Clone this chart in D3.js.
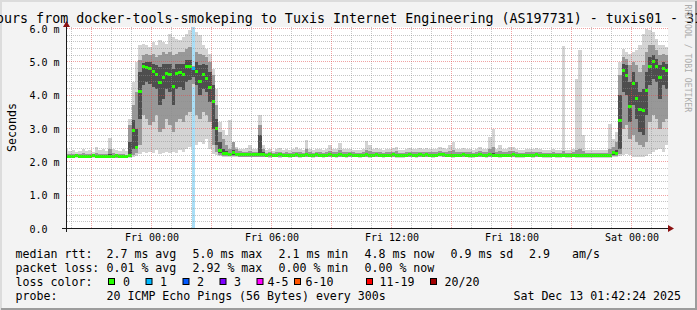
<!DOCTYPE html>
<html lang="en">
<head>
<meta charset="utf-8">
<title>tuxis01 smokeping</title>
<script src="https://d3js.org/d3.v7.min.js"></script>
<style>
  body { margin: 0; background: #f3f3f3; }
  svg { display: block; font-family: "DejaVu Sans Mono", monospace; }
</style>
</head>
<body>
<div id="graph"></div>
<script>
// one value per 10 minute step, first step starts Thu 19:40
var stepStart = new Date(2025, 11, 11, 19, 40);
var stepMs = 10 * 60 * 1000;

// median rtt (ms)
var median = [
  2.17,2.17,2.17,2.18,2.17,2.17,2.17,2.17,2.18,2.17,2.17,2.17,
  2.17,2.17,2.17,2.18,2.17,2.17,2.16,2.20,2.95,2.44,4.10,4.86,
  4.84,4.81,4.70,4.61,4.38,4.52,4.66,4.61,4.25,4.66,4.67,4.61,
  4.86,4.85,4.80,4.70,4.41,4.61,4.51,4.22,3.80,3.00,2.35,2.25,
  2.24,2.22,2.27,2.23,2.22,2.21,2.21,2.22,2.21,2.21,2.22,2.21,
  2.20,2.21,2.20,2.20,2.21,2.20,2.20,2.19,2.20,2.21,2.20,2.20,
  2.21,2.20,2.20,2.21,2.20,2.19,2.20,2.21,2.20,2.20,2.21,2.20,
  2.20,2.21,2.20,2.20,2.19,2.20,2.21,2.20,2.20,2.21,2.20,2.19,
  2.20,2.20,2.21,2.20,2.19,2.19,2.20,2.21,2.20,2.20,2.21,2.20,
  2.21,2.20,2.20,2.20,2.22,2.21,2.20,2.20,2.19,2.20,2.20,2.21,
  2.20,2.20,2.19,2.20,2.21,2.20,2.20,2.21,2.20,2.20,2.19,2.20,
  2.20,2.20,2.21,2.20,2.19,2.19,2.20,2.20,2.20,2.21,2.20,2.19,
  2.19,2.19,2.20,2.19,2.19,2.20,2.19,2.19,2.20,2.19,2.19,2.18,
  2.19,2.19,2.18,2.18,2.19,2.18,2.19,2.20,2.27,2.26,3.25,4.75,
  4.60,3.66,4.36,3.90,3.57,3.53,4.15,4.85,5.00,4.87,4.53,4.80,
  4.75
];

// smoke: outer (min/max), middle and inner ping ranges per step
var pingMin = [
  2.12,2.12,2.11,2.12,2.12,2.12,2.11,2.12,2.12,2.12,2.11,2.12,
  2.12,2.12,2.12,2.11,2.12,2.12,2.11,2.13,2.15,2.18,2.25,2.30,
  2.28,2.30,2.26,2.35,2.25,2.28,2.30,2.26,2.30,2.28,2.35,2.30,
  2.40,2.45,4.26,2.50,2.60,2.55,2.70,2.40,2.25,2.20,2.18,2.16,
  2.15,2.15,2.15,2.15,2.14,2.14,2.14,2.14,2.14,2.14,2.14,2.14,
  2.14,2.13,2.14,2.14,2.13,2.14,2.14,2.13,2.14,2.14,2.13,2.14,
  2.14,2.14,2.13,2.14,2.14,2.13,2.14,2.14,2.14,2.13,2.14,2.14,
  2.13,2.14,2.14,2.14,2.13,2.14,2.14,2.13,2.14,2.14,2.14,2.13,
  2.14,2.14,2.14,2.13,2.13,2.13,2.14,2.14,2.14,2.13,2.14,2.14,
  2.14,2.14,2.13,2.14,2.15,2.14,2.14,2.14,2.13,2.14,2.14,2.14,
  2.14,2.13,2.13,2.14,2.14,2.14,2.13,2.14,2.14,2.14,2.13,2.14,
  2.14,2.14,2.14,2.13,2.13,2.13,2.14,2.14,2.13,2.14,2.14,2.13,
  2.13,2.13,2.14,2.13,2.13,2.14,2.13,2.13,2.14,2.13,2.13,2.12,
  2.13,2.13,2.12,2.12,2.13,2.12,2.13,2.13,2.15,2.15,2.18,2.20,
  2.25,2.20,2.15,2.15,2.15,2.15,2.18,2.25,2.30,2.35,2.40,2.30,
  2.50
];
var pingLo1 = [
  2.14,2.14,2.13,2.14,2.14,2.14,2.13,2.14,2.14,2.14,2.13,2.14,
  2.14,2.14,2.14,2.13,2.14,2.14,2.13,2.15,2.20,2.28,2.50,3.40,
  3.30,3.10,3.20,3.40,2.90,3.00,3.30,3.10,2.90,3.20,3.30,3.20,
  3.40,3.50,4.35,3.40,3.30,3.50,3.40,3.20,2.50,2.30,2.22,2.19,
  2.18,2.17,2.18,2.17,2.16,2.16,2.16,2.16,2.16,2.16,2.16,2.16,
  2.16,2.15,2.16,2.16,2.15,2.16,2.16,2.15,2.16,2.16,2.15,2.16,
  2.16,2.16,2.15,2.16,2.16,2.15,2.16,2.16,2.16,2.15,2.16,2.16,
  2.15,2.16,2.16,2.16,2.15,2.16,2.16,2.15,2.16,2.16,2.16,2.15,
  2.16,2.16,2.16,2.15,2.15,2.15,2.16,2.16,2.16,2.15,2.16,2.16,
  2.16,2.16,2.15,2.16,2.17,2.16,2.16,2.16,2.15,2.16,2.16,2.16,
  2.16,2.15,2.15,2.16,2.16,2.16,2.15,2.16,2.16,2.16,2.15,2.16,
  2.16,2.16,2.16,2.15,2.15,2.15,2.16,2.16,2.15,2.16,2.16,2.15,
  2.15,2.15,2.16,2.15,2.15,2.16,2.15,2.15,2.16,2.15,2.15,2.14,
  2.15,2.15,2.14,2.14,2.15,2.14,2.15,2.15,2.18,2.18,2.25,3.00,
  3.10,2.70,2.80,2.60,2.50,2.45,2.60,3.20,3.40,3.30,3.00,3.20,
  3.30
];
var pingLo2 = [
  2.15,2.15,2.15,2.16,2.15,2.15,2.15,2.15,2.16,2.15,2.15,2.15,
  2.15,2.15,2.15,2.16,2.15,2.15,2.15,2.17,2.40,2.38,3.30,4.30,
  4.40,4.35,4.25,4.20,3.70,3.90,4.20,4.10,3.70,4.20,4.25,4.15,
  4.40,4.45,4.55,4.30,4.00,4.20,4.10,3.80,3.00,2.50,2.28,2.21,
  2.20,2.19,2.21,2.20,2.19,2.18,2.18,2.19,2.18,2.18,2.19,2.18,
  2.18,2.18,2.18,2.18,2.18,2.18,2.18,2.17,2.18,2.18,2.18,2.18,
  2.18,2.18,2.18,2.18,2.18,2.17,2.18,2.18,2.18,2.18,2.18,2.18,
  2.18,2.18,2.18,2.18,2.17,2.18,2.18,2.18,2.18,2.18,2.18,2.17,
  2.18,2.18,2.18,2.18,2.17,2.17,2.18,2.18,2.18,2.18,2.18,2.18,
  2.18,2.18,2.18,2.18,2.19,2.18,2.18,2.18,2.17,2.18,2.18,2.18,
  2.18,2.18,2.17,2.18,2.18,2.18,2.18,2.18,2.18,2.18,2.17,2.18,
  2.18,2.18,2.18,2.18,2.17,2.17,2.18,2.18,2.18,2.18,2.18,2.17,
  2.17,2.17,2.18,2.17,2.17,2.18,2.17,2.17,2.18,2.17,2.17,2.16,
  2.17,2.17,2.16,2.16,2.17,2.16,2.17,2.17,2.22,2.22,2.40,4.10,
  4.00,3.20,3.70,3.30,2.90,2.80,3.40,4.30,4.50,4.40,3.90,4.30,
  4.20
];
var pingHi2 = [
  2.20,2.20,2.21,2.20,2.20,2.21,2.20,2.20,2.20,2.22,2.20,2.21,
  2.20,2.24,2.21,2.20,2.20,2.21,2.20,2.60,3.25,3.00,4.70,4.98,
  5.00,5.00,4.95,4.90,4.85,4.95,4.95,4.95,4.80,4.95,4.95,4.95,
  5.05,5.05,4.86,5.00,4.90,4.95,4.90,4.70,4.30,3.30,2.60,2.40,
  2.32,2.28,2.35,2.28,2.26,2.25,2.25,2.26,2.25,2.25,2.80,2.30,
  2.24,2.24,2.23,2.24,2.25,2.23,2.24,2.23,2.24,2.25,2.24,2.23,
  2.26,2.24,2.23,2.24,2.24,2.23,2.24,2.24,2.25,2.24,2.26,2.24,
  2.24,2.25,2.24,2.23,2.23,2.24,2.26,2.25,2.24,2.25,2.24,2.23,
  2.24,2.24,2.25,2.24,2.23,2.23,2.24,2.25,2.24,2.24,2.25,2.24,
  2.25,2.24,2.24,2.24,2.26,2.25,2.24,2.25,2.25,2.24,2.24,2.25,
  2.24,2.24,2.23,2.24,2.25,2.24,2.24,2.27,2.28,2.24,2.25,2.24,
  2.24,2.25,2.26,2.24,2.23,2.23,2.24,2.24,2.24,2.25,2.24,2.23,
  2.23,2.23,2.24,2.23,2.23,2.24,2.23,2.23,2.24,2.24,2.24,2.22,
  2.23,2.23,2.22,2.22,2.23,2.22,2.23,2.24,2.32,2.35,4.00,4.95,
  4.90,4.40,4.70,4.40,4.10,4.20,4.70,5.15,5.20,5.10,4.90,5.00,
  4.95
];
var pingHi1 = [
  2.24,2.23,2.25,2.22,2.24,2.26,2.23,2.24,2.22,2.28,2.24,2.25,
  2.23,2.40,2.26,2.24,2.23,2.25,2.22,3.10,3.70,4.10,5.05,5.20,
  5.25,5.20,5.25,5.15,5.20,5.30,5.25,5.30,5.20,5.25,5.30,5.30,
  5.40,5.45,4.88,5.30,5.25,5.20,5.15,5.00,4.60,3.70,2.90,2.70,
  2.50,2.40,2.60,2.40,2.32,2.30,2.30,2.32,2.30,2.30,3.10,2.40,
  2.28,2.30,2.27,2.29,2.31,2.27,2.30,2.28,2.29,2.31,2.29,2.28,
  2.40,2.30,2.28,2.29,2.30,2.27,2.29,2.32,2.30,2.29,2.35,2.30,
  2.30,2.31,2.29,2.28,2.28,2.30,2.36,2.32,2.30,2.31,2.29,2.28,
  2.29,2.30,2.31,2.33,2.28,2.28,2.30,2.31,2.29,2.30,2.31,2.29,
  2.31,2.30,2.29,2.30,2.33,2.31,2.29,2.34,2.36,2.30,2.29,2.31,
  2.29,2.30,2.28,2.29,2.32,2.30,2.29,2.40,2.45,2.30,2.33,2.29,
  2.30,2.32,2.33,2.29,2.28,2.28,2.30,2.29,2.30,2.31,2.29,2.28,
  2.28,2.28,2.30,2.28,2.28,2.32,2.28,2.28,2.30,2.35,2.40,2.32,
  2.28,2.28,2.27,2.27,2.28,2.27,2.28,2.40,2.45,2.60,4.60,5.15,
  5.10,4.90,5.00,4.90,4.70,4.90,5.30,5.50,5.50,5.35,5.20,5.25,
  5.20
];
var pingMax = [
  2.38,2.32,2.36,2.30,2.34,2.40,2.33,2.36,2.31,2.45,2.35,2.38,
  2.33,2.72,2.40,2.36,2.34,2.38,2.32,3.30,4.40,5.00,5.50,5.55,
  5.50,5.45,5.60,5.50,5.65,5.60,5.55,5.85,5.75,5.70,5.65,5.75,
  5.85,5.95,4.92,5.90,5.80,5.50,5.40,5.25,4.80,4.20,3.20,2.95,
  2.80,3.25,2.60,2.45,2.40,2.38,2.42,2.50,2.40,2.38,3.40,2.50,
  2.36,2.40,2.34,2.38,2.42,2.35,2.38,2.36,2.40,2.44,2.38,2.36,
  2.65,2.40,2.36,2.38,2.40,2.35,2.38,2.50,2.40,2.38,2.57,2.40,
  2.38,2.40,2.37,2.36,2.36,2.40,2.62,2.50,2.40,2.42,2.38,2.36,
  2.38,2.40,2.42,2.45,2.36,2.36,2.40,2.42,2.38,2.40,2.42,2.38,
  2.42,2.40,2.38,2.40,2.45,2.42,2.38,2.50,2.60,2.40,2.38,2.42,
  2.38,2.40,2.36,2.38,2.45,2.40,2.38,2.75,3.00,2.40,2.50,2.38,
  2.40,2.45,2.45,2.38,2.36,2.36,2.40,2.38,2.40,2.42,2.38,2.36,
  2.36,2.36,2.40,2.36,2.36,5.47,2.36,2.36,2.40,4.50,5.37,2.80,
  2.36,2.36,2.35,2.35,2.36,2.35,2.36,3.15,2.70,2.90,5.00,5.40,
  5.30,5.25,5.30,5.35,5.50,5.85,5.98,5.95,5.90,5.70,5.50,5.50,
  5.45
];

// steps with lost pings (index, lost count)
var lossSteps = [38];
var lossCounts = [1];

var lossLabels = ['0', '1', '2', '3', '4-5', '6-10', '11-19', '20/20'];
var lossColors = ['#26ff00', '#00b8ff', '#0059ff', '#7e00ff', '#ff00ff', '#ff5500', '#ff0000', '#a10000'];

var yTicks = [0, 1, 2, 3, 4, 5, 6];

var rttStats = ['2.7 ms avg', '5.0 ms max', '2.1 ms min', '4.8 ms now', '0.9 ms sd', '2.9', 'am/s'];
var lossStats = ['0.01 % avg', '2.92 % max', '0.00 % min', '0.00 % now'];
var probeText = '20 ICMP Echo Pings (56 Bytes) every 300s';
var stampText = 'Sat Dec 13 01:42:24 2025';
var titleText = 'ours from docker-tools-smokeping to Tuxis Internet Engineering (AS197731) - tuxis01 - 31';

var W = 697, H = 310;

var svg = d3.select('#graph').append('svg')
    .attr('width', W)
    .attr('height', H);

// background and 3d frame
svg.append('rect').attr('width', W).attr('height', H).attr('fill', '#f3f3f3');
svg.append('path').attr('d', 'M0,0H697V2H2V310H0Z').attr('fill', '#dcdcdc');
svg.append('path').attr('d', 'M697,1V310H1V308H695V1Z').attr('fill', '#9c9c9c');

// scales
var x = d3.scaleTime()
    .domain([new Date(2025, 11, 11, 19, 45), new Date(2025, 11, 13, 1, 45)])
    .range([66.5, 666.5]);
var y = d3.scaleLinear().domain([0, 6]).range([228.5, 28.5]);

var canvasL = 67, canvasR = 668, canvasT = 27, canvasB = 228.5;

svg.append('rect')
    .attr('x', canvasL).attr('y', canvasT)
    .attr('width', canvasR - canvasL).attr('height', canvasB - canvasT)
    .attr('fill', '#fff');

svg.append('clipPath').attr('id', 'clip')
  .append('rect')
    .attr('x', canvasL).attr('y', canvasT)
    .attr('width', canvasR - canvasL).attr('height', canvasB - canvasT);

var plot = svg.append('g').attr('clip-path', 'url(#clip)');

var steps = median.map(function(m, i) {
  var t0 = new Date(+stepStart + i * stepMs);
  var t1 = new Date(+stepStart + (i + 1) * stepMs);
  var li = lossSteps.indexOf(i);
  return {
    x0: x(t0), x1: x(t1), med: m,
    lo: [pingMin[i], pingLo1[i], pingLo2[i]],
    hi: [pingMax[i], pingHi1[i], pingHi2[i]],
    loss: li < 0 ? 0 : lossCounts[li]
  };
});

// loss background
plot.selectAll('rect.lossbg')
    .data(steps.filter(function(d) { return d.loss > 0; }))
    .enter().append('rect')
    .attr('class', 'lossbg')
    .attr('x', function(d) { return d.x0; })
    .attr('width', function(d) { return d.x1 - d.x0; })
    .attr('y', canvasT)
    .attr('height', canvasB - canvasT)
    .attr('fill', '#a9def6')
    .attr('shape-rendering', 'crispEdges');

// smoke
var smokeColors = ['#d4d4d4', '#989898', '#4e4e4e'];
smokeColors.forEach(function(c, b) {
  plot.append('g').selectAll('rect')
      .data(steps)
      .enter().append('rect')
      .attr('x', function(d) { return d.x0; })
      .attr('width', function(d) { return d.x1 - d.x0; })
      .attr('y', function(d) { return y(d.hi[b]); })
      .attr('height', function(d) { return y(d.lo[b]) - y(d.hi[b]); })
      .attr('fill', c)
      .attr('shape-rendering', 'crispEdges');
});

// grid, drawn over the smoke like rrdtool does
var grid = svg.append('g').attr('fill', 'none').attr('stroke-dasharray', '1,1');
var snap = function(v) { return Math.round(v - 0.5) + 0.5; };

var yMajor = y.ticks(6);
var yMinor = y.ticks(30).filter(function(v) { return Math.abs(v - Math.round(v)) > 1e-6; });
var xMajor = x.ticks(d3.timeHour.every(3));
var xMinor = x.ticks(d3.timeHour.every(1)).filter(function(t) { return t.getHours() % 3 !== 0; });

grid.selectAll('line.ymin').data(yMinor).enter().append('line')
    .attr('x1', canvasL).attr('x2', canvasR)
    .attr('y1', function(d) { return snap(y(d)); }).attr('y2', function(d) { return snap(y(d)); })
    .attr('stroke', 'rgba(140,140,140,0.5)');
grid.selectAll('line.xmin').data(xMinor).enter().append('line')
    .attr('y1', canvasT).attr('y2', canvasB)
    .attr('x1', function(d) { return snap(x(d)); }).attr('x2', function(d) { return snap(x(d)); })
    .attr('stroke', 'rgba(140,140,140,0.5)');
grid.selectAll('line.ymaj').data(yMajor.filter(function(v) { return v > 0; })).enter().append('line')
    .attr('x1', canvasL).attr('x2', canvasR)
    .attr('y1', function(d) { return snap(y(d)); }).attr('y2', function(d) { return snap(y(d)); })
    .attr('stroke', 'rgba(225,70,70,0.5)');
grid.selectAll('line.xmaj').data(xMajor).enter().append('line')
    .attr('y1', canvasT).attr('y2', canvasB)
    .attr('x1', function(d) { return snap(x(d)); }).attr('x2', function(d) { return snap(x(d)); })
    .attr('stroke', 'rgba(225,70,70,0.5)');

// median, coloured by loss
plot.append('g').selectAll('rect')
    .data(steps)
    .enter().append('rect')
    .attr('x', function(d) { return d.x0; })
    .attr('width', function(d) { return d.x1 - d.x0; })
    .attr('y', function(d) { return y(d.med) - 1.5; })
    .attr('height', 3)
    .attr('fill', function(d) { return lossColors[Math.min(d.loss, 1)]; })
    .attr('shape-rendering', 'crispEdges');

// axes
var xAxis = d3.axisBottom(x)
    .ticks(d3.timeHour.every(6))
    .tickSize(0)
    .tickFormat(d3.timeFormat('%a %H:%M'));
var gx = svg.append('g').attr('transform', 'translate(0,228.5)').call(xAxis);
gx.select('.domain').remove();
gx.selectAll('text')
    .attr('y', 12.3).attr('dy', null)
    .attr('font-family', '"DejaVu Sans Mono", monospace')
    .attr('font-size', '10px').attr('fill', '#000');

var yAxis = d3.axisLeft(y)
    .tickValues(yTicks)
    .tickSize(0)
    .tickFormat(function(v) { return v === 0 ? '0.0' : v.toFixed(1) + ' m'; });
var gy = svg.append('g').attr('transform', 'translate(66.5,0)').call(yAxis);
gy.select('.domain').remove();
gy.selectAll('text')
    .attr('x', -37).attr('dy', '0.36em')
    .attr('text-anchor', 'start')
    .attr('font-family', '"DejaVu Sans Mono", monospace')
    .attr('font-size', '10px').attr('fill', '#000');

svg.append('line').attr('x1', 62).attr('x2', 669).attr('y1', 228.5).attr('y2', 228.5)
    .attr('stroke', '#1a1a1a').attr('shape-rendering', 'crispEdges');
svg.append('line').attr('x1', 66.5).attr('x2', 66.5).attr('y1', 232).attr('y2', 26)
    .attr('stroke', '#1a1a1a').attr('shape-rendering', 'crispEdges');
svg.append('path').attr('d', 'M668,225L674,228.5L668,232Z').attr('fill', '#8b1111');
svg.append('path').attr('d', 'M63,27L66.5,21L70,27Z').attr('fill', '#8b1111');

// texts
svg.append('text')
    .attr('x', -4).attr('y', 23)
    .attr('font-size', '13.33px')
    .text(titleText);

svg.append('text')
    .attr('transform', 'translate(15.5,127.5) rotate(-90)')
    .attr('text-anchor', 'middle')
    .attr('font-size', '11.6px')
    .text('Seconds');

svg.append('text')
    .attr('transform', 'translate(684.5,4.5) rotate(90)')
    .attr('font-size', '8.15px')
    .attr('fill', '#acacac')
    .text('RRDTOOL / TOBI OETIKER');

// legend
var legend = svg.append('g').attr('font-size', '11.6px').attr('fill', '#000');
var colX = [106.5, 192.5, 278.5, 364.5, 450.5, 529, 572];

legend.append('text').attr('x', 15.6).attr('y', 257.7).text('median rtt:');
legend.selectAll('text.rtt').data(rttStats).enter().append('text')
    .attr('class', 'rtt')
    .attr('x', function(d, i) { return colX[i]; })
    .attr('y', 257.7)
    .text(function(d) { return d; });

legend.append('text').attr('x', 15.6).attr('y', 271.7).text('packet loss:');
legend.selectAll('text.loss').data(lossStats).enter().append('text')
    .attr('class', 'loss')
    .attr('x', function(d, i) { return colX[i]; })
    .attr('y', 271.7)
    .text(function(d) { return d; });

legend.append('text').attr('x', 15.6).attr('y', 285.7).text('loss color:');
var boxX = [108, 145.5, 182.5, 219.5, 256.5, 294, 366, 430];
var labelX = [123, 160, 197, 234, 267.5, 305.5, 379.5, 444.5];
legend.selectAll('rect.lc').data(lossColors).enter().append('rect')
    .attr('class', 'lc')
    .attr('x', function(d, i) { return boxX[i] + 0.5; })
    .attr('y', 278.5)
    .attr('width', 6).attr('height', 6)
    .attr('fill', function(d) { return d; })
    .attr('stroke', '#000').attr('stroke-width', 1);
legend.selectAll('text.lc').data(lossLabels).enter().append('text')
    .attr('class', 'lc')
    .attr('x', function(d, i) { return labelX[i]; })
    .attr('y', 285.7)
    .text(function(d) { return d; });

legend.append('text').attr('x', 15.6).attr('y', 299.7).text('probe:');
legend.append('text').attr('x', 106.5).attr('y', 299.7).text(probeText);
legend.append('text').attr('x', 681).attr('y', 299.7).attr('text-anchor', 'end').text(stampText);
</script>
</body>
</html>
